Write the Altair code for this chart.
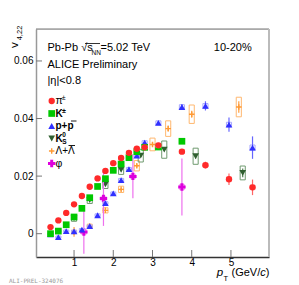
import altair as alt
import pandas as pd

# ---------------- data ----------------
pi_pt = [0.4, 0.6, 0.8, 1.0, 1.2, 1.4, 1.6, 1.8, 2.0, 2.2, 2.4, 2.6, 2.8, 3.15, 3.75, 4.35, 4.95, 5.55]
pi_v = [0.0023, 0.0046, 0.0072, 0.0102, 0.0131, 0.0163, 0.0192, 0.0218, 0.0245, 0.0263, 0.0281, 0.0295,
        0.0300, 0.0307, 0.0285, 0.0238, 0.0189, 0.0161]
pi_err = [0.0002, 0.0002, 0.0002, 0.0002, 0.0002, 0.0002, 0.0002, 0.0003, 0.0003, 0.0003, 0.0003, 0.0004,
          0.0004, 0.0005, 0.0008, 0.0012, 0.0020, 0.0027]
pi_sys = [0.0003, 0.0003, 0.0003, 0.0003, 0.0004, 0.0004, 0.0004, 0.0005, 0.0005, 0.0005, 0.0006, 0.0006,
          0.0006, 0.0007, 0.0007, 0.0007, 0.0008, 0.0008]

k_pt = [0.4, 0.6, 0.8, 1.0, 1.2, 1.4, 1.6, 1.8, 2.0, 2.2, 2.4, 2.6, 2.8, 3.15, 3.75]
k_v = [0.0000, 0.0009, 0.0031, 0.0058, 0.0088, 0.0125, 0.0164, 0.0191, 0.0220, 0.0242, 0.0264, 0.0285,
       0.0300, 0.0301, 0.0321]
k_err = [0.0002, 0.0002, 0.0002, 0.0002, 0.0002, 0.0002, 0.0003, 0.0003, 0.0003, 0.0003, 0.0004, 0.0004,
         0.0005, 0.0005, 0.0007]
k_sys = [0.0003, 0.0003, 0.0003, 0.0003, 0.0004, 0.0004, 0.0004, 0.0005, 0.0005, 0.0005, 0.0006, 0.0006,
         0.0006, 0.0007, 0.0007]

p_pt = [0.4, 0.6, 0.8, 1.0, 1.2, 1.4, 1.6, 1.8, 2.0, 2.2, 2.4, 2.6, 2.8, 3.15, 3.75, 4.35, 4.95, 5.55]
p_v = [-0.0002, -0.0012, 0.0009, 0.0008, 0.0014, 0.0026, 0.0064, 0.0106, 0.0140, 0.0186, 0.0224, 0.0271,
       0.0316, 0.0385, 0.0440, 0.0444, 0.0379, 0.0299]
p_err = [0.0003, 0.0003, 0.0003, 0.0003, 0.0003, 0.0003, 0.0003, 0.0003, 0.0003, 0.0004, 0.0004, 0.0004,
         0.0005, 0.0006, 0.0010, 0.0016, 0.0025, 0.0039]
p_sys = [0.0004, 0.0004, 0.0004, 0.0004, 0.0004, 0.0004, 0.0005, 0.0005, 0.0005, 0.0006, 0.0006, 0.0006,
         0.0007, 0.0007, 0.0008, 0.0008, 0.0008, 0.0009]

k0_pt = [1.0, 1.4, 1.8, 2.2, 2.7, 3.3, 4.1, 5.3]
k0_v = [0.0054, 0.0117, 0.0171, 0.0222, 0.0271, 0.0292, 0.0269, 0.0211]
k0_err = [0.0003, 0.0003, 0.0003, 0.0004, 0.0004, 0.0005, 0.0008, 0.0015]
k0_sys = [0.0011, 0.0012, 0.0014, 0.0016, 0.0022, 0.0030, 0.0028, 0.0024]

lam_pt = [1.0, 1.4, 1.8, 2.2, 2.6, 3.0, 3.4, 4.0, 5.2]
lam_v = [0.0006, 0.0026, 0.0081, 0.0154, 0.0236, 0.0310, 0.0365, 0.0415, 0.0440]
lam_err = [0.0017, 0.0007, 0.0005, 0.0005, 0.0006, 0.0008, 0.0010, 0.0012, 0.0020]
lam_sys = [0.0006, 0.0007, 0.0009, 0.0011, 0.0018, 0.0022, 0.0027, 0.0032, 0.0034]

phi_pt = [1.25, 1.75, 2.5, 3.75]
phi_v = [0.0006, 0.0122, 0.0199, 0.0162]
phi_err = [0.0076, 0.0095, 0.0076, 0.0099]
phi_sys = [0.0008, 0.0008, 0.0008, 0.0009]

x_ticks = [1, 2, 3, 4, 5]
y_ticks = [0, 0.02, 0.04, 0.06]

# ---------------- layout ----------------
W, H = 233, 228
xs = alt.Scale(domain=[0.03, 5.97], nice=False, zero=False)
ys = alt.Scale(domain=[-0.0081, 0.0711], nice=False, zero=False)
FONT = "Liberation Sans"

AX = alt.Axis(values=x_ticks, format="d", ticks=False, grid=False, title=None,
              labelFontSize=10, labelFont=FONT, labelColor="black",
              labelPadding=0, domainColor="#333", domainWidth=1.3)
AY = alt.Axis(values=y_ticks, ticks=False, grid=False, title=None,
              labelExpr="datum.value == 0 ? '0' : format(datum.value, '.2f')",
              labelFontSize=10, labelFont=FONT, labelColor="black",
              labelPadding=3, domainColor="#999", domainWidth=1.5)


def frame(pt, v, err, sys):
    return pd.DataFrame({"pt": pt, "v": v, "err": err, "sys": sys})


def species(d, color, shape, size, boxcolor, barcolor, filled=True, sw=0.0, boxw=0.065):
    base = alt.Chart(d).transform_calculate(
        bx1=f"datum.pt-{boxw}", bx2=f"datum.pt+{boxw}",
        sy1="datum.v-datum.sys", sy2="datum.v+datum.sys",
        ey1="datum.v-datum.err", ey2="datum.v+datum.err",
    )
    box = base.mark_rect(fillOpacity=0, stroke=boxcolor, strokeWidth=1).encode(
        x=alt.X("bx1:Q", scale=xs, axis=AX, title=None), x2="bx2:Q",
        y=alt.Y("sy1:Q", scale=ys, axis=AY, title=None), y2="sy2:Q")
    bar = base.mark_rule(color=barcolor, strokeWidth=1.2).encode(
        x=alt.X("pt:Q", scale=xs, axis=AX, title=None),
        y=alt.Y("ey1:Q", scale=ys, axis=AY, title=None), y2="ey2:Q")
    if filled:
        pm = base.mark_point(shape=shape, filled=True, size=size, color=color, opacity=1, strokeWidth=0)
    else:
        pm = base.mark_point(shape=shape, filled=False, size=size, color=color, opacity=1, strokeWidth=sw)
    pts = pm.encode(x=alt.X("pt:Q", scale=xs, axis=AX, title=None),
                    y=alt.Y("v:Q", scale=ys, axis=AY, title=None))
    return [box, bar, pts]


one = pd.DataFrame({"a": [0]})


def txt(s, x, y, size=11, align="left", baseline="alphabetic", weight="normal", style="normal",
        angle=0, color="black", font=FONT):
    return alt.Chart(one).mark_text(text=s, align=align, baseline=baseline, fontSize=size,
                                    fontWeight=weight, fontStyle=style, angle=angle, color=color,
                                    font=font).encode(x=alt.value(x), y=alt.value(y))


def lmark(x, y, shape, size, color, filled=True, sw=0.0):
    if filled:
        m = alt.Chart(one).mark_point(shape=shape, filled=True, size=size, color=color, opacity=1, strokeWidth=0)
    else:
        m = alt.Chart(one).mark_point(shape=shape, filled=False, size=size, color=color, opacity=1, strokeWidth=sw)
    return m.encode(x=alt.value(x), y=alt.value(y))


RED, GREEN, BLUE = "#ff2a2a", "#00c800", "#3030ff"
K0C, LAMC, PHIC = "#2f5f2f", "#ff9933", "#dd00dd"
PLUS = "M-1,0L1,0M0,-1L0,1"

layers = []

# inward ticks (also carry the axes)
xt = alt.Chart(pd.DataFrame({"t": x_ticks})).mark_rule(color="#777", strokeWidth=1).encode(
    x=alt.X("t:Q", scale=xs, axis=AX, title=None),
    y=alt.value(H), y2=alt.value(H - 7))
yt = alt.Chart(pd.DataFrame({"t": y_ticks})).mark_rule(color="#777", strokeWidth=1).encode(
    y=alt.Y("t:Q", scale=ys, axis=AY, title=None),
    x=alt.value(0), x2=alt.value(6))
layers += [xt, yt]

# top and right frame lines
layers.append(alt.Chart(one).mark_rule(color="#777", strokeWidth=1).encode(
    x=alt.value(0), x2=alt.value(W), y=alt.value(0)))
layers.append(alt.Chart(one).mark_rule(color="#bbb", strokeWidth=2).encode(
    x=alt.value(W), y=alt.value(0), y2=alt.value(H)))

# data series
layers += species(frame(lam_pt, lam_v, lam_err, lam_sys), LAMC, PLUS, 30, "#ffb870", "#ffa040",
                  filled=False, sw=1.4)
layers += species(frame(k0_pt, k0_v, k0_err, k0_sys), K0C, "triangle-down", 45, "#6f9a6f", "#4f7f4f")
layers += species(frame(phi_pt, phi_v, phi_err, phi_sys), PHIC, "cross", 55, "#f3a0f3", "#ee70ee")
layers += species(frame(p_pt, p_v, p_err, p_sys), BLUE, "triangle-up", 45, "#a8a8ff", "#6666ff")
layers += species(frame(k_pt, k_v, k_err, k_sys), GREEN, "square", 45, "#99e699", "#33cc33")
layers += species(frame(pi_pt, pi_v, pi_err, pi_sys), RED, "circle", 40, "#ffaaaa", "#ff6666")

# header texts
layers += [
    txt("Pb-Pb \u221as", 11.5, 21.7),
    txt("NN", 55.5, 25.5, size=6.5),
    txt("=5.02 TeV", 64.5, 21.7),
    txt("ALICE Preliminary", 11.5, 39),
    txt("|\u03b7|<0.8", 11.5, 55),
    txt("10-20%", 215.7, 21.7, align="right"),
]
layers.append(alt.Chart(one).mark_rule(color="black", strokeWidth=0.8).encode(
    x=alt.value(49), x2=alt.value(64), y=alt.value(14.5)))

# legend
LX, TX = 15.7, 19.5
ly = [72, 84.5, 97, 109.5, 122, 134.5]
layers += [
    lmark(LX, ly[0], "circle", 40, RED),
    lmark(LX, ly[1], "square", 45, GREEN),
    lmark(LX, ly[2], "triangle-up", 45, BLUE),
    lmark(LX, ly[3], "triangle-down", 45, K0C),
    lmark(LX, ly[4], PLUS, 30, LAMC, filled=False, sw=1.4),
    lmark(LX, ly[5], "cross", 55, PHIC),
    txt("\u03c0", TX, ly[0], size=10.5, baseline="middle"),
    txt("\u00b1", TX + 6.2, ly[0] - 3, size=7, baseline="middle"),
    txt("K", TX, ly[1], size=10, baseline="middle", weight="bold"),
    txt("\u00b1", TX + 6.5, ly[1] - 3, size=7, baseline="middle", weight="bold"),
    txt("p+p", TX, ly[2], size=10, baseline="middle", weight="bold"),
    txt("K", TX, ly[3], size=10, baseline="middle", weight="bold"),
    txt("0", TX + 6.8, ly[3] - 3.2, size=6.5, baseline="middle", weight="bold"),
    txt("S", TX + 6.8, ly[3] + 3.2, size=6.5, baseline="middle", weight="bold"),
    txt("\u039b+\u039b", TX, ly[4], size=10, baseline="middle"),
    txt("\u03c6", TX, ly[5], size=10.5, baseline="middle"),
]
# bars over anti-particles
layers.append(alt.Chart(one).mark_rule(color="black", strokeWidth=0.9).encode(
    x=alt.value(TX + 15.5), x2=alt.value(TX + 21), y=alt.value(ly[2] - 5)))
layers.append(alt.Chart(one).mark_rule(color="black", strokeWidth=0.9).encode(
    x=alt.value(TX + 13), x2=alt.value(TX + 19.5), y=alt.value(ly[4] - 5.5)))

# axis titles
layers += [
    txt("v", -21.5, 16, size=11.5, align="center", baseline="middle", angle=270),
    txt("4,22", -16.5, 4, size=7.5, align="center", baseline="middle", angle=270),
    txt("p", 180.7, 247, size=11.5, style="italic"),
    txt("T", 187.5, 252, size=7.5),
    txt("(GeV/", 195.5, 247, size=11),
    txt("c", 224.2, 247, size=11, style="italic"),
    txt(")", 229.7, 247, size=11),
    txt("ALI-PREL-324076", -27, 253.5, size=6, color="#999", font="DejaVu Sans Mono"),
]

chart = alt.layer(*layers).properties(
    width=W, height=H, autosize="none",
    padding={"left": 28, "top": 21, "right": 20, "bottom": 26},
).configure_view(stroke=None).configure(background="white")

chart.save("out.html", embed_options={"renderer": "svg", "actions": False})
